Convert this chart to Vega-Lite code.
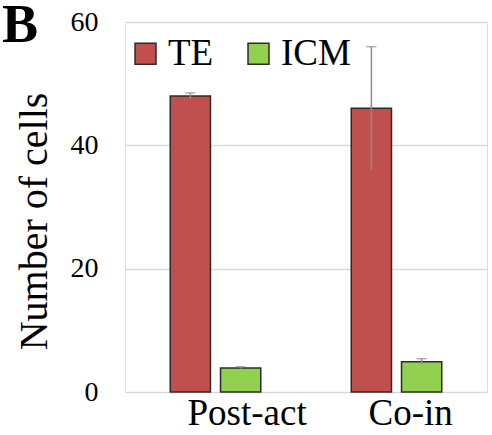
{
  "$schema": "https://vega.github.io/schema/vega-lite/v6.json",
  "autosize": "none",
  "width": 362,
  "height": 370,
  "padding": {"left": 125, "top": 22, "right": 5, "bottom": 43},
  "background": "white",
  "title": {"text": "B", "anchor": "start", "frame": "group", "dx": -123, "offset": -88, "baseline": "alphabetic", "font": "Liberation Serif", "fontSize": 54, "fontWeight": "bold", "color": "black"},
  "data": {"values": [
    {"group": "Post-act", "type": "TE", "value": 48.0, "lo": 47.6, "hi": 48.5},
    {"group": "Post-act", "type": "ICM", "value": 3.9, "lo": 3.8, "hi": 4.1},
    {"group": "Co-in", "type": "TE", "value": 46.0, "lo": 36.0, "hi": 56.0},
    {"group": "Co-in", "type": "ICM", "value": 4.9, "lo": 4.5, "hi": 5.4}
  ]},
  "encoding": {
    "x": {"field": "group", "type": "nominal", "sort": ["Post-act", "Co-in"],
      "scale": {"paddingInner": 0.5, "paddingOuter": 0.25},
      "axis": {"title": null, "labelAngle": 0, "labelAlign": "left", "labelOffset": -28, "labelFont": "Liberation Serif", "labelFontSize": 37, "labelColor": "black", "labelPadding": 3, "ticks": false, "domain": false, "grid": false}},
    "xOffset": {"field": "type", "type": "nominal", "sort": ["TE", "ICM"], "scale": {"paddingInner": 0.2, "paddingOuter": 0}}
  },
  "layer": [
    {
      "mark": {"type": "bar", "stroke": "#2b2b2b", "strokeWidth": 1.5},
      "encoding": {
        "y": {"field": "value", "type": "quantitative", "scale": {"domain": [0, 60]},
          "axis": {"title": "Number of cells", "values": [0, 20, 40, 60], "titleFont": "Liberation Serif", "titleFontSize": 40, "titleFontWeight": "normal", "titleColor": "black", "titleX": -91, "titleY": 199, "titleBaseline": "middle", "titleAngle": -90, "labelFont": "Liberation Serif", "labelFontSize": 28, "labelColor": "black", "labelPadding": 27, "ticks": false, "domain": false, "grid": true, "gridColor": "#d9d9d9", "gridWidth": 1.5}},
        "color": {"field": "type", "type": "nominal", "sort": ["TE", "ICM"],
          "scale": {"domain": ["TE", "ICM"], "range": ["#c0504d", "#92d050"]},
          "legend": {"title": null, "orient": "none", "legendX": 2, "legendY": 13, "direction": "horizontal", "symbolType": "square", "symbolSize": 440, "symbolStrokeColor": "#2b2b2b", "symbolStrokeWidth": 1.5, "symbolOpacity": 1, "labelFont": "Liberation Serif", "labelFontSize": 37, "labelColor": "black", "labelOffset": 4, "columnPadding": 26, "labelLimit": 200}}
      }
    },
    {
      "mark": {"type": "rule", "color": "#8c8c8c", "strokeWidth": 1.5},
      "encoding": {
        "y": {"field": "lo", "type": "quantitative"},
        "y2": {"field": "hi"}
      }
    },
    {
      "mark": {"type": "tick", "color": "#8c8c8c", "thickness": 1.5, "size": 10},
      "encoding": {
        "y": {"field": "hi", "type": "quantitative"}
      }
    }
  ]
}
